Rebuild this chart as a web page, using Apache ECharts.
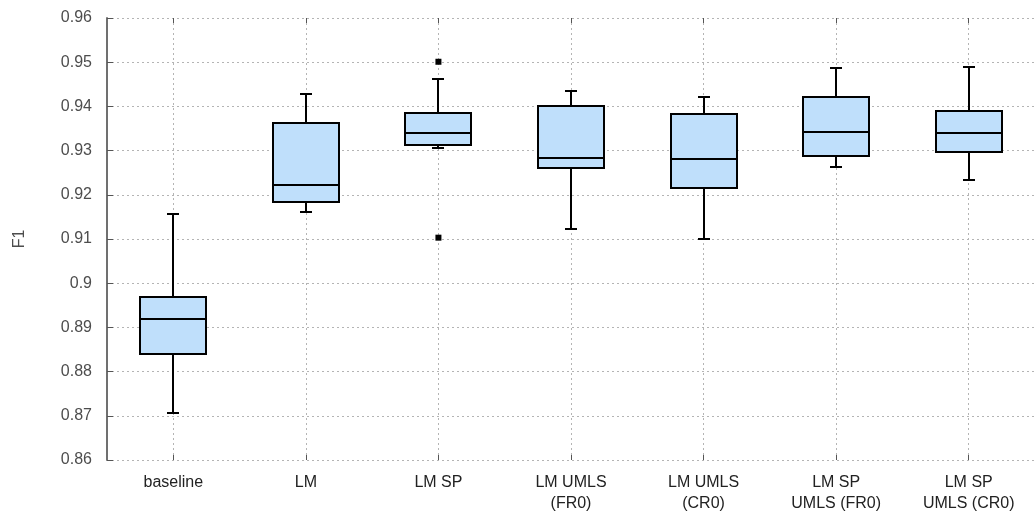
<!DOCTYPE html>
<html>
<head>
<meta charset="utf-8">
<script src="https://cdn.jsdelivr.net/npm/echarts@6/dist/echarts.min.js"></script>
<style>html,body{margin:0;padding:0;background:#fff}#c{width:1035px;height:514px}</style>
</head>
<body>
<div id="c"></div>
<script>
const categories = ['baseline', 'LM', 'LM SP', 'LM UMLS\n(FR0)', 'LM UMLS\n(CR0)', 'LM SP\nUMLS (FR0)', 'LM SP\nUMLS (CR0)'];
const whiskerLow  = [0.8706, 0.9162, 0.9306, 0.9123, 0.9101, 0.9263, 0.9234];
const q1          = [0.8839, 0.9183, 0.9313, 0.9261, 0.9215, 0.9288, 0.9296];
const median      = [0.8920, 0.9222, 0.9340, 0.9284, 0.9280, 0.9342, 0.9339];
const q3          = [0.8969, 0.9362, 0.9385, 0.9402, 0.9382, 0.9421, 0.9390];
const whiskerHigh = [0.9157, 0.9427, 0.9463, 0.9434, 0.9422, 0.9487, 0.9489];
const outliers    = [[2, 0.9501], [2, 0.9103]];
const yTicks = { min: 0.86, max: 0.96, interval: 0.01 };

const boxData = categories.map((c, i) => [i, whiskerLow[i], q1[i], median[i], q3[i], whiskerHigh[i]]);

const chart = echarts.init(document.getElementById('c'), null, { renderer: 'canvas' });
const FONT = 'Liberation Sans, Arial, sans-serif';
const gridLine = { show: true, lineStyle: { color: '#b4b4b4', width: 1, type: [2, 3] } };

function renderBox(params, api) {
  const i = api.value(0);
  const lo = api.coord([i, api.value(1)]);
  const a = api.coord([i, api.value(2)]);
  const m = api.coord([i, api.value(3)]);
  const b = api.coord([i, api.value(4)]);
  const hi = api.coord([i, api.value(5)]);
  const x = Math.round(lo[0]);
  const hw = 33, cw = 6;
  const st = { stroke: '#000', lineWidth: 2, fill: null };
  const yy = v => Math.round(v);
  return {
    type: 'group',
    children: [
      { type: 'line', shape: { x1: x, y1: yy(hi[1]), x2: x, y2: yy(b[1]) }, style: st },
      { type: 'line', shape: { x1: x, y1: yy(a[1]), x2: x, y2: yy(lo[1]) }, style: st },
      { type: 'line', shape: { x1: x - cw, y1: yy(hi[1]), x2: x + cw, y2: yy(hi[1]) }, style: st },
      { type: 'line', shape: { x1: x - cw, y1: yy(lo[1]), x2: x + cw, y2: yy(lo[1]) }, style: st },
      { type: 'rect', shape: { x: x - hw, y: yy(b[1]), width: 2 * hw, height: yy(a[1]) - yy(b[1]) },
        style: { fill: '#bfdffb', stroke: '#000', lineWidth: 2 } },
      { type: 'line', shape: { x1: x - hw, y1: yy(m[1]), x2: x + hw, y2: yy(m[1]) }, style: st }
    ]
  };
}

chart.setOption({
  animation: false,
  backgroundColor: '#fff',
  grid: { left: 107, top: 18, width: 934, height: 444 },
  xAxis: [
    {
      type: 'category', data: categories, position: 'bottom',
      axisLine: { show: false },
      axisTick: { show: true, inside: true, length: 5, alignWithLabel: true, interval: 0, lineStyle: { color: '#555', width: 1 } },
      axisLabel: { interval: 0, margin: 12, color: '#222', fontFamily: FONT, fontSize: 16, lineHeight: 21 },
      splitLine: Object.assign({ alignWithLabel: true, interval: 0 }, gridLine)
    },
    {
      type: 'category', data: categories, position: 'top',
      axisLine: { show: false },
      axisTick: { show: true, inside: true, length: 5, alignWithLabel: true, interval: 0, lineStyle: { color: '#555', width: 1 } },
      axisLabel: { show: false },
      splitLine: { show: false }
    }
  ],
  yAxis: {
    type: 'value', min: yTicks.min, max: yTicks.max, interval: yTicks.interval,
    name: 'F1', nameLocation: 'middle', nameGap: 79, nameRotate: 90,
    nameTextStyle: { color: '#4d4d4d', fontFamily: FONT, fontSize: 16 },
    axisLine: { show: true, lineStyle: { color: '#707070', width: 2 } },
    axisTick: { show: true, inside: true, length: 6, lineStyle: { color: '#555', width: 1 } },
    axisLabel: { margin: 15, color: '#4d4d4d', fontFamily: FONT, fontSize: 16 },
    splitLine: gridLine
  },
  series: [
    {
      type: 'custom', name: 'box', xAxisIndex: 0, renderItem: renderBox,
      encode: { x: 0, y: [1, 2, 3, 4, 5] }, data: boxData, z: 3
    },
    {
      type: 'scatter', name: 'outliers', xAxisIndex: 0, symbol: 'rect', symbolSize: 6,
      itemStyle: { color: '#000', opacity: 1 }, data: outliers, z: 4
    }
  ]
});
</script>
</body>
</html>
